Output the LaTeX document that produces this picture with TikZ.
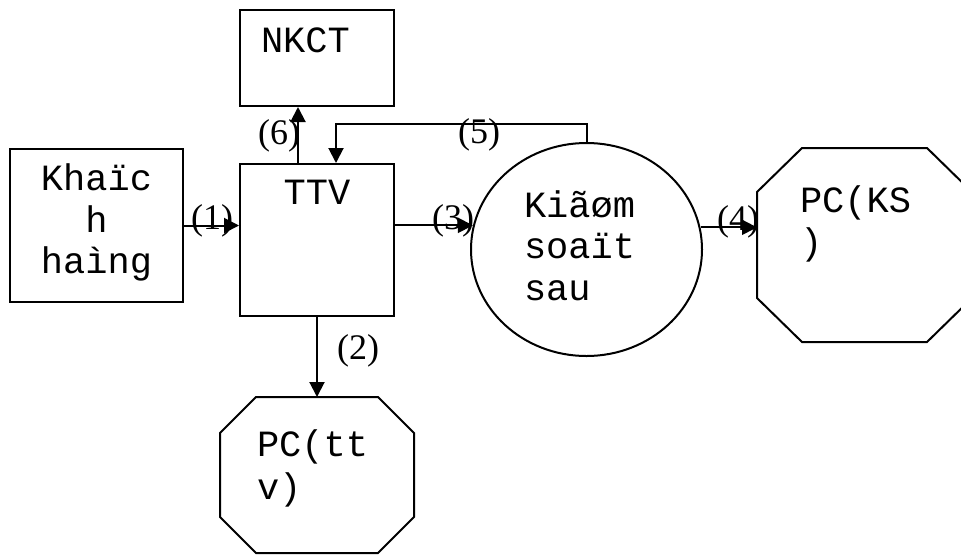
\documentclass[tikz,border=0pt]{standalone}
\usepackage{fontspec}
\setmainfont{Liberation Serif}
\newfontfamily\monofont{Liberation Mono}
\usetikzlibrary{shapes.geometric,arrows.meta,calc}
\newcommand\octoshape[3]{% name, dx, dy
  \draw[line width=2pt] ($(#1.north west)+(#2,0)$) -- ($(#1.north east)+(-#2,0)$) -- ($(#1.north east)+(0,#3)$) -- ($(#1.south east)+(0,-#3)$) -- ($(#1.south east)+(-#2,0)$) -- ($(#1.south west)+(#2,0)$) -- ($(#1.south west)+(0,-#3)$) -- ($(#1.north west)+(0,#3)$) -- cycle;}
\begin{document}
\begin{tikzpicture}[x=1pt,y=-1pt,line width=2pt,
  blk/.style={draw,rectangle,inner sep=0pt,line width=2pt},
  oct/.style={rectangle,inner sep=0pt,draw=none},
  lbl/.style={font=\fontsize{36}{40}\selectfont,inner sep=0pt},
  txt/.style={font=\monofont\fontsize{37}{41.5}\selectfont,inner sep=0pt,anchor=base west},
  ctxt/.style={font=\monofont\fontsize{37}{41.5}\selectfont,inner sep=0pt,anchor=base},
  arr/.style={-{Triangle[length=15pt,width=15pt]}}]
\useasboundingbox (0,0) rectangle (961,555);
\clip (0,0) rectangle (961,555);
% shapes
\node[blk,minimum width=154pt,minimum height=96pt] (nkct) at (317,58) {};
\node[blk,minimum width=173pt,minimum height=153pt] (kh) at (96.5,225.5) {};
\node[blk,minimum width=154pt,minimum height=152pt] (ttv) at (317,240) {};
\node[draw,ellipse,inner sep=0pt,line width=2pt,minimum width=231pt,minimum height=213pt] (kiem) at (586.5,249.5) {};
\node[oct,minimum width=213pt,minimum height=192pt] (ks) at (864.5,245) {};
\octoshape{ks}{45}{44}
\node[oct,minimum width=192pt,minimum height=154pt] (pctt) at (317,475) {};
\octoshape{pctt}{36}{36}
% texts
\node[txt] (t1) at (260,52) {NKCT};
\node[ctxt] (t2) at (96.5,190) {Khaïc};
\node[ctxt] (t3) at (96.5,232) {h};
\node[ctxt] (t4) at (96.5,273) {haìng};
\node[ctxt] (t5) at (317,204) {TTV};
\node[txt] (t6) at (523,217) {Kiãøm};
\node[txt] (t7) at (523,258) {soaït};
\node[txt] (t8) at (523,300) {sau};
\node[txt] (t9) at (799,212) {PC(KS};
\node[txt] (t10) at (799,254) {)};
\node[txt] (t11) at (256,456) {PC(tt};
\node[txt] (t12) at (256,499) {v)};
% connectors
\draw[arr] (kh.east) -- (kh.east -| ttv.west);
\draw[arr] (ttv.south) -- (pctt.north);
\coordinate (k3) at (kiem.168.2);
\draw[arr] (k3 -| ttv.east) -- (k3);
\coordinate (k4) at (kiem.11.8);
\draw[arr] (k4) -- (k4 -| ks.west);
\coordinate (a6) at ($(ttv.north)+(-19,0)$);
\draw[arr] (a6) -- (a6 |- nkct.south);
\coordinate (a5) at ($(ttv.north)+(19,0)$);
\draw[arr] (kiem.north) -- ++(0,-18) -| (a5);
% labels
\node[lbl] (l1) at (212,221) {(1)};
\node[lbl] (l2) at (358,351) {(2)};
\node[lbl] (l3) at (453,221) {(3)};
\node[lbl] (l4) at (738,222) {(4)};
\node[lbl] (l5) at (479,135) {(5)};
\node[lbl] (l6) at (279,136) {(6)};
\end{tikzpicture}
\end{document}
